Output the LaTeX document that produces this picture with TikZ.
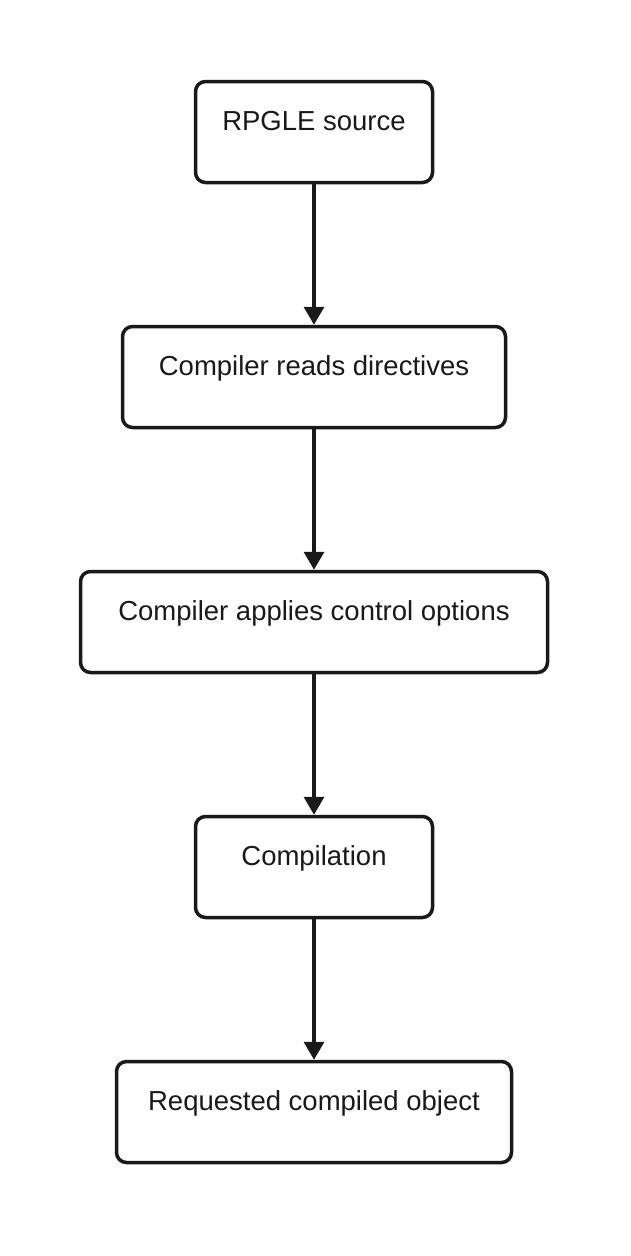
\documentclass[tikz,border=0pt]{standalone}
\usepackage{fontspec}
\setmainfont{Liberation Sans}
\usetikzlibrary{positioning,arrows.meta}
\begin{document}
\begin{tikzpicture}[x=1pt,y=1pt, node distance=140.5pt, thick,
		step node/.style={rectangle,draw=black!90,line width=3.5pt,rounded corners=10pt,
			minimum height=101pt,inner sep=0pt,text height=9pt,text depth=12pt,
			font=\fontsize{27.5}{32}\selectfont,text=black!90},
		flow/.style={-{Triangle[width=20pt,length=18pt]},line width=3.5pt,draw=black!90}]
	\useasboundingbox (0,0) rectangle (630,-1256);
	
	\node[step node, minimum width=237pt] (source) at (314,-132) {RPGLE source};
	\node[step node, minimum width=383pt] (reads) [below=of source] {Compiler reads directives};
	\node[step node, minimum width=467pt] (applies) [below=of reads] {Compiler applies control options};
	\node[step node, minimum width=237pt] (compile) [below=of applies] {Compilation};
	\node[step node, minimum width=395pt] (object) [below=of compile] {Requested compiled object};
	
	\draw[flow] (source) -- (reads);
	\draw[flow] (reads) -- (applies);
	\draw[flow] (applies) -- (compile);
	\draw[flow] (compile) -- (object);
\end{tikzpicture}
\end{document}
